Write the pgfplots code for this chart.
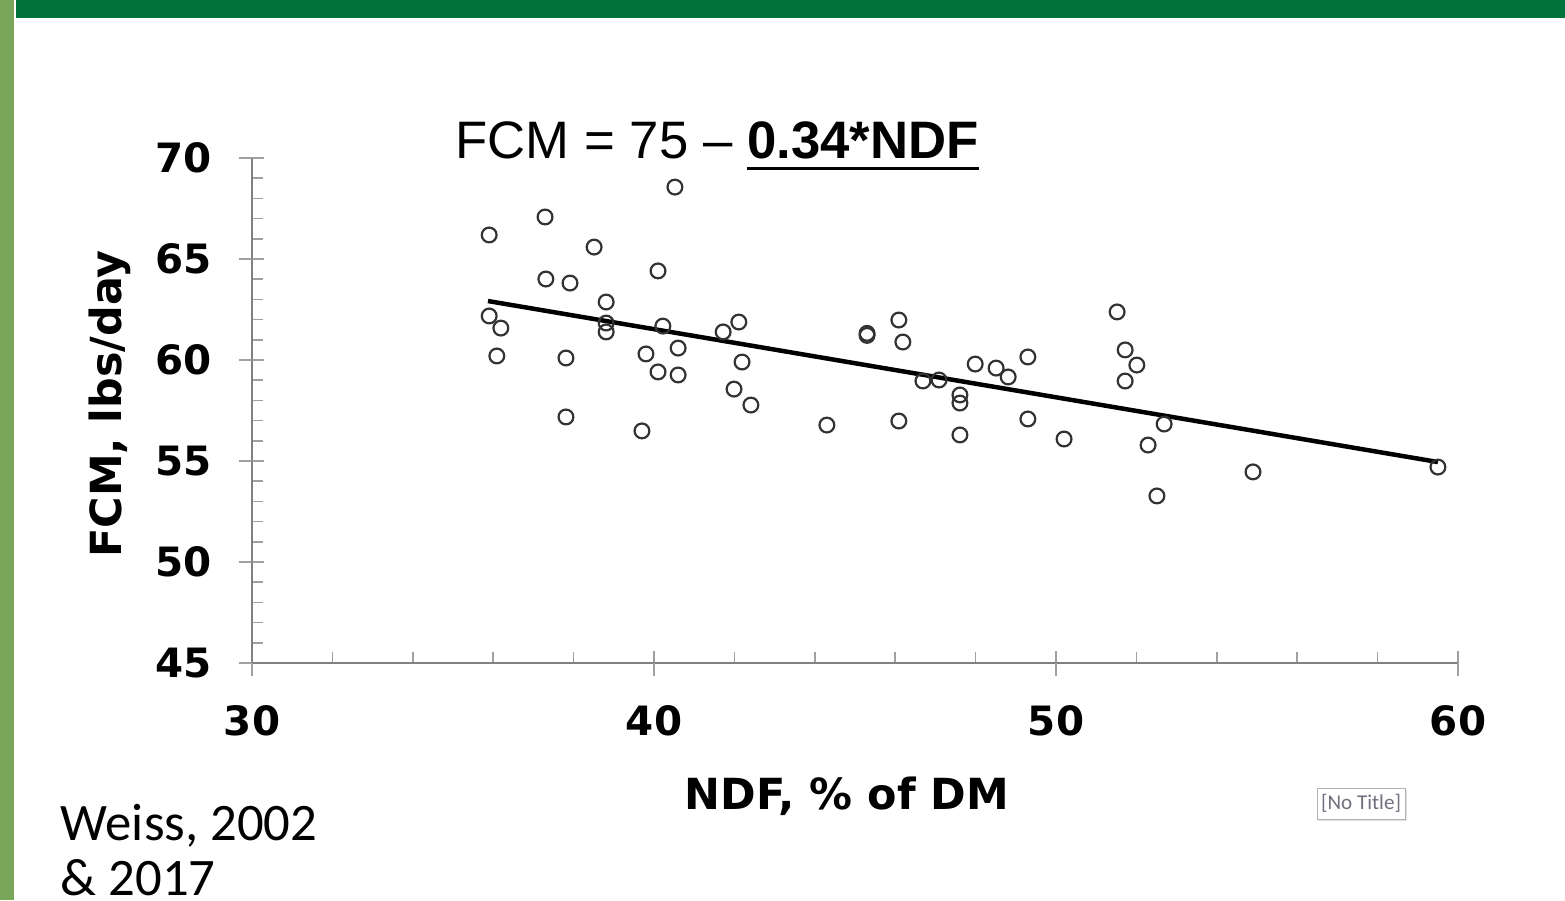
\documentclass[border=0pt]{standalone}
\usepackage{pgfplots}
\pgfplotsset{compat=1.18}
\usepackage{fontspec}
\setmainfont{Liberation Sans}
\newfontfamily\dvs{DejaVu Sans}
\newfontfamily\carl{Carlito}
\definecolor{bargreen}{HTML}{00743A}
\definecolor{stripgreen}{HTML}{7AA65A}
\definecolor{axisgray}{HTML}{808080}
\definecolor{tickgray}{HTML}{A0A0A0}
\definecolor{markgray}{HTML}{333333}
\definecolor{notitle}{HTML}{70707E}

\pgfplotstableread{
x y
35.90 66.19
37.29 67.08
38.51 65.59
40.52 68.56
37.31 64.01
37.91 63.81
40.10 64.41
35.90 62.18
36.19 61.58
36.09 60.20
38.81 62.87
38.81 61.83
38.81 61.39
37.81 60.10
37.81 57.18
39.70 56.49
39.80 60.30
40.10 59.41
40.22 61.68
40.60 60.59
40.60 59.26
41.72 61.39
42.11 61.88
42.19 59.90
41.99 58.56
42.41 57.77
44.30 56.78
45.30 61.32
45.30 61.22
46.09 61.98
46.19 60.89
46.09 56.98
46.69 58.96
47.09 59.01
47.61 58.27
47.61 57.87
47.61 56.29
47.99 59.80
48.51 59.60
48.81 59.16
49.30 60.15
49.30 57.08
50.20 56.09
51.52 62.38
51.72 60.50
52.01 59.75
51.72 58.96
52.69 56.83
52.29 55.79
52.51 53.27
54.90 54.46
59.50 54.70
}\ndfdata

\begin{document}
\begin{tikzpicture}
\useasboundingbox (0,0) rectangle (15.65,9);
\clip (0,0) rectangle (15.65,9);
% slide decoration
\fill[stripgreen] (0,0) rectangle (0.14,9);
\fill[bargreen] (0.155,8.82) rectangle (15.65,9);

\begin{axis}[
    at={(2.52cm,2.37cm)}, anchor=south west,
    scale only axis, width=12.06cm, height=5.05cm,
    xmin=30, xmax=60, ymin=45, ymax=70,
    axis lines=left,
    axis line style={-, draw=axisgray, line width=0.02cm},
    xtick={30,40,50,60}, ytick={45,50,...,70},
    minor x tick num=4, minor y tick num=4,
    tick align=inside, major tick length=0.12cm, minor tick length=0.11cm,
    tick style={draw=tickgray, line width=0.015cm},
    extra x ticks={30,40,50,60}, extra y ticks={45,50,...,70},
    extra x tick labels={}, extra y tick labels={},
    extra tick style={tick align=outside, major tick length=0.13cm},
    /pgf/number format/assume math mode=true,
    ticklabel style={font=\dvs\bfseries\fontsize{11.5}{13}\selectfont, text=black},
    yticklabel style={xshift=-0.275cm},
    xticklabel style={yshift=-0.305cm},
    xlabel={NDF, \% of DM},
    ylabel={FCM, lbs/day},
    label style={font=\dvs\bfseries\fontsize{12.2}{14}\selectfont},
    xlabel style={at={(axis description cs:0.4934,-0.291)}, anchor=base},
    ylabel style={at={(axis description cs:-0.1086,0.513)}, anchor=base, rotate=0},
    clip=false,
]
\addplot[only marks, mark=o, mark size=0.074cm,
    mark options={draw=markgray, line width=0.022cm}] table[x=x, y=y] {\ndfdata};
\addplot[black, line width=0.045cm] coordinates {(35.87,62.92) (59.50,54.95)};
\end{axis}

% equation
\node[anchor=base west, inner sep=0, font=\fontsize{15}{18}\selectfont]
  at (4.55,7.41) {FCM = 75 -- \setbox0\hbox{\bfseries 0.34*NDF}\rlap{\rule[-0.11cm]{\wd0}{0.03cm}}\box0};

% citation
\node[anchor=base west, inner sep=0, align=left, font=\carl\fontsize{15}{15.4}\selectfont]
  at (0.60,0.05) {Weiss, 2002\\\& 2017};

% empty-title box
\fill[black!12] (13.19,0.795) rectangle (14.07,1.105);
\draw[black!30, fill=white, line width=0.01cm] (13.17,0.81) rectangle (14.05,1.12)
  node[midway, text=notitle, font=\carl\fontsize{6}{7}\selectfont] {[No Title]};
\end{tikzpicture}
\end{document}
